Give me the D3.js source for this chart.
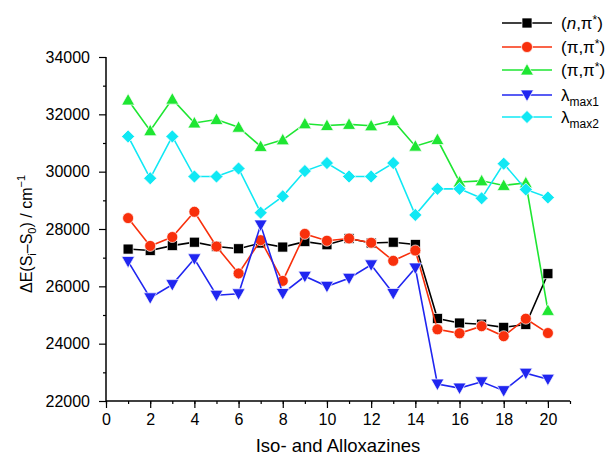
<!DOCTYPE html>
<html><head><meta charset="utf-8">
<script src="https://cdn.jsdelivr.net/npm/d3@7"></script>
<style>body{margin:0;background:#fff}svg{display:block}text{font-family:"Liberation Sans",Arial,sans-serif}</style>
</head><body>
<svg id="c" width="609" height="462"></svg>
<script>
const compounds = d3.range(1, 21);
const nPi = [27300,27250,27420,27540,27390,27310,27510,27370,27560,27450,27670,27510,27540,27460,24880,24720,24680,24570,24670,26440];
const piPi1 = [28380,27410,27720,28600,27390,26450,27610,26190,27830,27590,27670,27520,26890,27250,24500,24360,24610,24260,24870,24370];
const piPi2 = [32500,31430,32530,31700,31820,31550,30880,31110,31670,31610,31650,31600,31780,30890,31120,29640,29680,29520,29610,25160];
const lmax1 = [26870,25600,26060,26960,25690,25740,28140,25750,26350,26000,26280,26750,25750,26640,22590,22450,22670,22360,22970,22760];
const lmax2 = [31230,29770,31230,29830,29830,30110,28570,29140,30020,30300,29830,29830,30300,28490,29400,29400,29070,30280,29380,29100];
const xTicks = d3.range(0, 21, 2);
const yTicks = d3.range(22000, 34001, 2000);

const series = [
  {name:"n", data:nPi, color:"#000000", shape:"square"},
  {name:"pp1", data:piPi1, color:"#f8300c", shape:"circle"},
  {name:"pp2", data:piPi2, color:"#1ee632", shape:"up"},
  {name:"l1", data:lmax1, color:"#2026f0", shape:"down"},
  {name:"l2", data:lmax2, color:"#10e8f4", shape:"diamond"}
];

const svg = d3.select("#c");
const L = 106, R = 570, T = 57, B = 401;
const x = d3.scaleLinear().domain([0, 21]).range([L, R]);
const y = d3.scaleLinear().domain([22000, 34000]).range([B, T]);

// axes
const gx = svg.append("g").attr("transform", `translate(0,${B})`);
gx.call(d3.axisBottom(x).tickValues(d3.range(0, 22, 1)).tickSize(3).tickFormat(""));
const gx2 = svg.append("g").attr("transform", `translate(0,${B})`);
gx2.call(d3.axisBottom(x).tickValues(xTicks).tickSize(7).tickPadding(6).tickFormat(d3.format("d")));
gx2.selectAll("text").attr("font-size", 16).attr("fill", "#000");

const gy = svg.append("g").attr("transform", `translate(${L},0)`);
gy.call(d3.axisLeft(y).tickValues(d3.range(23000, 34000, 2000)).tickSize(3).tickFormat(""));
const gy2 = svg.append("g").attr("transform", `translate(${L},0)`);
gy2.call(d3.axisLeft(y).tickValues(yTicks).tickSize(7).tickPadding(9).tickFormat(d3.format("d")));
gy2.selectAll("text").attr("font-size", 16).attr("fill", "#000");
svg.selectAll(".tick line").attr("stroke-width", 1.2);
svg.selectAll(".domain").remove();
svg.append("line").attr("x1", L).attr("x2", R).attr("y1", B).attr("y2", B).attr("stroke", "#000").attr("stroke-width", 1.5);
svg.append("line").attr("x1", L).attr("x2", L).attr("y1", T).attr("y2", B).attr("stroke", "#000").attr("stroke-width", 1.5);

// titles
svg.append("text").attr("x", (L + R) / 2).attr("y", 452).attr("text-anchor", "middle")
  .attr("font-size", 18.5).text("Iso- and Alloxazines");
const yl = svg.append("text").attr("transform", `translate(32,${(T + B) / 2 + 5}) rotate(-90)`)
  .attr("text-anchor", "middle").attr("font-size", 16);
yl.append("tspan").text("ΔE(S");
yl.append("tspan").text("i").attr("font-size", 11).attr("dy", 4);
yl.append("tspan").text("–S").attr("dy", -4);
yl.append("tspan").text("0").attr("font-size", 11).attr("dy", 4);
yl.append("tspan").text(") / cm").attr("dy", -4);
yl.append("tspan").text("−1").attr("font-size", 11).attr("dy", -7);

function marker(g, shape, color, cx, cy) {
  let el;
  if (shape === "square") el = g.append("rect").attr("x", cx - 5).attr("y", cy - 5).attr("width", 10).attr("height", 10);
  else if (shape === "circle") el = g.append("circle").attr("cx", cx).attr("cy", cy).attr("r", 5.5);
  else if (shape === "up") el = g.append("path").attr("d", `M${cx},${cy - 6.5}L${cx + 6.5},${cy + 5}L${cx - 6.5},${cy + 5}Z`);
  else if (shape === "down") el = g.append("path").attr("d", `M${cx},${cy + 6.5}L${cx + 6.5},${cy - 5}L${cx - 6.5},${cy - 5}Z`);
  else el = g.append("path").attr("d", `M${cx},${cy - 6.5}L${cx + 6.5},${cy}L${cx},${cy + 6.5}L${cx - 6.5},${cy}Z`);
  el.attr("fill", color).attr("stroke", "#fff").attr("stroke-width", 0.7);
}

const line = d3.line().x((d, i) => x(compounds[i])).y(d => y(d));
series.forEach(s => {
  const g = svg.append("g");
  g.append("path").attr("d", line(s.data)).attr("fill", "none").attr("stroke", s.color).attr("stroke-width", 1.6);
  s.data.forEach((v, i) => marker(g, s.shape, s.color, x(compounds[i]), y(v)));
});

// legend
const legY = [23, 47, 70, 95, 117];
series.forEach((s, i) => {
  const g = svg.append("g");
  g.append("line").attr("x1", 502).attr("x2", 552).attr("y1", legY[i]).attr("y2", legY[i]).attr("stroke", s.color).attr("stroke-width", 1.6);
  marker(g, s.shape, s.color, 527, legY[i]);
  const t = g.append("text").attr("x", 561).attr("y", legY[i] + 6).attr("font-size", 17);
  if (i === 0) {
    t.append("tspan").text("(");
    t.append("tspan").text("n").attr("font-style", "italic");
    t.append("tspan").text(",π");
    t.append("tspan").text("*").attr("dy", -5).attr("font-size", 12);
    t.append("tspan").text(")").attr("dy", 5);
  } else if (i < 3) {
    t.append("tspan").text("(π,π");
    t.append("tspan").text("*").attr("dy", -5).attr("font-size", 12);
    t.append("tspan").text(")").attr("dy", 5);
  } else {
    t.append("tspan").text("λ");
    t.append("tspan").text(i === 3 ? "max1" : "max2").attr("font-size", 12).attr("dy", 5);
  }
});
</script>
</body></html>
